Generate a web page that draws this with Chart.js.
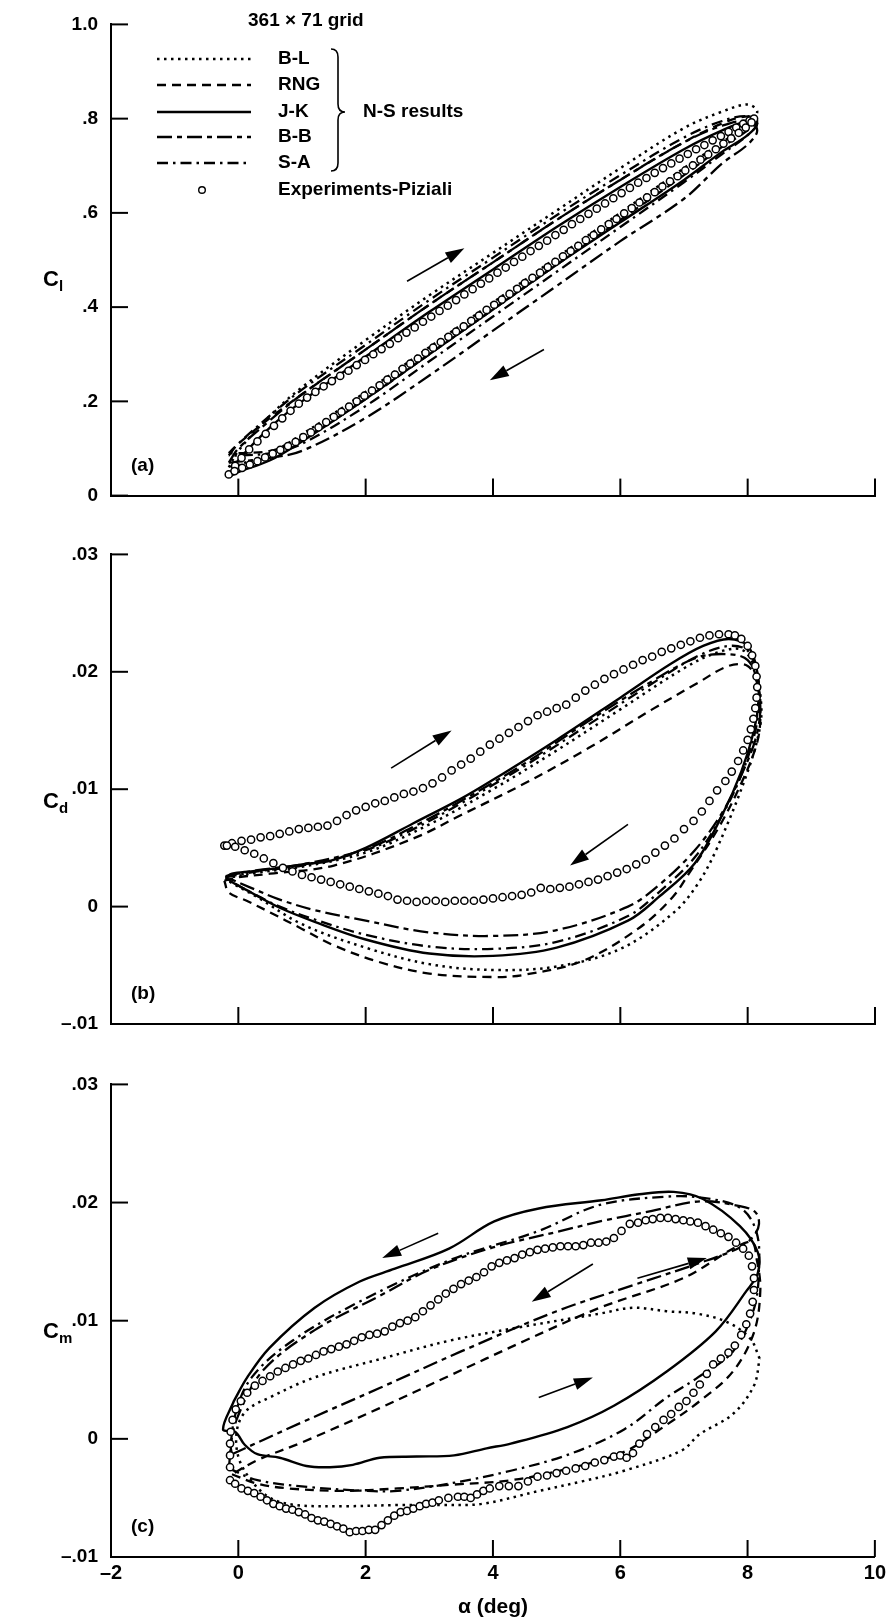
<!DOCTYPE html>
<html>
<head>
<meta charset="utf-8">
<script src="https://cdn.jsdelivr.net/npm/chart.js@4.4.0/dist/chart.umd.min.js"></script>
<style>
  body { margin: 0; background: #fff; width: 890px; height: 1622px; position: relative; overflow: hidden; }
  canvas { position: absolute; left: 0; }
</style>
</head>
<body>
<canvas id="cA" width="890" height="520" style="top:0px;width:890px;height:520px"></canvas>
<canvas id="cB" width="890" height="520" style="top:530px;width:890px;height:520px"></canvas>
<canvas id="cC" width="890" height="562" style="top:1060px;width:890px;height:562px"></canvas>
<script>
// ---------- panel (a): lift coefficient ----------
const alphaA = [-0.15, 0, 0.5, 1, 2, 3, 4, 5, 6, 7, 7.6, 8.0, 8.15, 8.0, 7.6, 7, 6, 5, 4, 3, 2, 1, 0.5, 0, -0.15];
const clBL  = [.06, .095, .17, .23, .33, .425, .515, .605, .695, .78, .815, .83, .815, .785, .75, .695, .60, .505, .41, .315, .22, .13, .09, .065, .06];
const clRNG = [.09, .11, .165, .215, .31, .405, .495, .585, .67, .75, .79, .805, .795, .775, .74, .68, .585, .49, .395, .30, .205, .12, .095, .09, .09];
const clJK  = [.04, .075, .145, .2, .295, .39, .48, .57, .655, .735, .775, .795, .79, .765, .73, .67, .58, .49, .395, .30, .205, .115, .075, .05, .04];
const clBB  = [.07, .10, .16, .215, .31, .405, .495, .585, .67, .75, .785, .795, .775, .745, .705, .63, .54, .445, .35, .255, .165, .095, .08, .072, .07];
const clSA  = [.085, .11, .17, .225, .32, .415, .505, .595, .68, .76, .795, .805, .79, .765, .725, .665, .57, .475, .38, .285, .19, .11, .09, .085, .085];

const expA_alpha = [-0.15,-0.05,0.05,0.17,0.3,0.43,0.56,0.69,0.82,0.95,
  1.08,1.21,1.34,1.47,1.6,1.73,1.86,1.99,2.12,2.25,
  2.38,2.51,2.64,2.77,2.9,3.03,3.16,3.29,3.42,3.55,
  3.68,3.81,3.94,4.07,4.2,4.33,4.46,4.59,4.72,4.85,
  4.98,5.11,5.24,5.37,5.5,5.63,5.76,5.89,6.02,6.15,
  6.28,6.41,6.54,6.67,6.8,6.93,7.06,7.19,7.32,7.45,
  7.58,7.7,7.82,7.93,8.03,8.1,
  8.06,7.97,7.86,7.74,7.62,7.5,7.38,7.26,7.14,7.02,
  6.9,6.78,6.66,6.54,6.42,6.3,6.18,6.06,5.94,5.82,
  5.7,5.58,5.46,5.34,5.22,5.1,4.98,4.86,4.74,4.62,
  4.5,4.38,4.26,4.14,4.02,3.9,3.78,3.66,3.54,3.42,
  3.3,3.18,3.06,2.94,2.82,2.7,2.58,2.46,2.34,2.22,
  2.1,1.98,1.86,1.74,1.62,1.5,1.38,1.26,1.14,1.02,
  0.9,0.78,0.66,0.54,0.42,0.3,0.18,0.06,-0.06];
const expA_cl = [.045,.063,.080,.098,.115,.131,.148,.164,.180,.195,
  .208,.220,.232,.243,.254,.265,.277,.288,.300,.311,
  .322,.334,.346,.357,.369,.380,.392,.403,.415,.427,
  .438,.450,.461,.473,.484,.496,.507,.519,.530,.541,
  .553,.564,.576,.587,.598,.609,.620,.631,.642,.653,
  .664,.674,.685,.695,.705,.715,.725,.735,.744,.754,
  .763,.772,.781,.789,.796,.800,
  .792,.781,.770,.758,.747,.735,.724,.713,.701,.690,
  .678,.667,.656,.644,.633,.622,.610,.599,.587,.576,
  .565,.553,.542,.530,.519,.508,.496,.485,.473,.462,
  .451,.439,.428,.416,.405,.394,.382,.371,.359,.348,
  .337,.326,.314,.303,.291,.280,.269,.257,.246,.234,
  .223,.212,.200,.189,.178,.167,.156,.145,.134,.124,
  .114,.105,.097,.089,.081,.073,.066,.059,.052];

// ---------- panel (b): drag coefficient ----------
const cdJK_alpha = [-0.2,-0.1,0.2,0.65,1.0,1.44,2.0,2.75,3.5,4.0,5.0,6.0,6.8,7.3,7.7,8.0,8.15,8.17,8.1,7.9,7.6,7.17,6.6,6.12,5.0,4.0,3.0,2.0,1.2,0.65,0.2,-0.1,-0.2];
const cdJK = [0.0025,0.0028,0.003,0.0033,0.0036,0.0039,0.005,0.0071,0.0092,0.0108,0.0142,0.0178,0.0207,0.0222,0.0228,0.0222,0.020,0.0175,0.015,0.0115,0.0078,0.0037,0.0008,-0.0012,-0.0035,-0.0042,-0.004,-0.0028,-0.0013,-0.0001,0.0012,0.0021,0.0025];
const cdRNG_alpha = [-0.22,0,0.5,1.5,2.75,3.5,4.5,5.5,6.5,7.2,7.7,8.0,8.15,8.2,8.15,7.9,7.52,7.1,6.82,6.3,5.42,4.5,4.0,3.0,2.2,1.5,1.0,0.5,0.13,-0.15,-0.22];
const cdRNG = [0.0022,0.0025,0.0028,0.0035,0.0058,0.0078,0.0105,0.0135,0.0168,0.019,0.0205,0.0205,0.019,0.0165,0.014,0.0105,0.0065,0.003,0.0008,-0.0018,-0.0046,-0.0058,-0.006,-0.0057,-0.0047,-0.0033,-0.0019,-0.0005,0.0005,0.0012,0.0022];
const cdBL_alpha = [-0.2,0.3,1.0,2.0,3.0,4.0,5.0,6.0,7.0,7.5,7.9,8.1,8.2,8.2,8.0,7.52,7.2,6.82,6.0,5.0,4.0,3.0,2.0,1.0,0.3,-0.1,-0.2];
const cdBL = [0.0024,0.0029,0.0034,0.0046,0.007,0.0100,0.0133,0.0168,0.0203,0.0216,0.0219,0.0205,0.018,0.0155,0.0115,0.005,0.0018,-0.0006,-0.0036,-0.0051,-0.0054,-0.0049,-0.0035,-0.0015,0.0008,0.002,0.0024];
const cdSA_alpha = [-0.2,0.3,1.0,2.0,2.75,3.5,4.5,5.5,6.5,7.2,7.7,8.0,8.15,8.18,8.1,7.9,7.6,7.17,6.6,6.12,5.0,4.0,3.0,2.0,1.2,0.65,0.2,-0.1,-0.2];
const cdSA = [0.0025,0.003,0.0035,0.0048,0.0066,0.0088,0.012,0.0155,0.019,0.0213,0.0222,0.0218,0.0198,0.0172,0.0145,0.0112,0.0078,0.0042,0.0012,-0.0008,-0.003,-0.0036,-0.0034,-0.0024,-0.0011,0.0,0.0012,0.0021,0.0025];
const cdBB_alpha = [-0.2,0.3,1.0,2.0,2.75,3.5,4.5,5.5,6.5,7.2,7.7,8.0,8.15,8.2,8.12,7.9,7.6,7.17,6.6,6.12,5.0,4.0,3.0,2.0,1.2,0.65,0.2,-0.1,-0.2];
const cdBB = [0.0026,0.0031,0.0036,0.0049,0.0068,0.009,0.0122,0.0158,0.0192,0.0212,0.0215,0.021,0.0192,0.0168,0.0142,0.0112,0.008,0.0048,0.0018,0.0,-0.002,-0.0025,-0.0022,-0.0012,-0.0003,0.0006,0.0016,0.0023,0.0026];

const expB_alpha = [-0.22,-0.1,0.05,0.2,0.35,0.5,0.65,0.8,0.95,1.1,
  1.25,1.4,1.55,1.7,1.85,2.0,2.15,2.3,2.45,2.6,
  2.75,2.9,3.05,3.2,3.35,3.5,3.65,3.8,3.95,4.1,
  4.25,4.4,4.55,4.7,4.85,5.0,5.15,5.3,5.45,5.6,
  5.75,5.9,6.05,6.2,6.35,6.5,6.65,6.8,6.95,7.1,
  7.25,7.4,7.55,7.7,7.8,7.9,8.0,8.07,8.12,8.14,
  8.15,8.14,8.12,8.09,8.05,8.0,7.93,7.85,7.75,7.65,
  7.52,7.4,7.28,7.15,7.0,6.85,6.7,6.55,6.4,6.25,
  6.1,5.95,5.8,5.65,5.5,5.35,5.2,5.05,4.9,4.75,
  4.6,4.45,4.3,4.15,4.0,3.85,3.7,3.55,3.4,3.25,
  3.1,2.95,2.8,2.65,2.5,2.35,2.2,2.05,1.9,1.75,
  1.6,1.45,1.3,1.15,1.0,0.85,0.7,0.55,0.4,0.25,
  0.1,-0.05,-0.18];
const expB_cd = [0.0052,0.0054,0.0056,0.0057,0.0059,0.0060,0.0062,0.0064,0.0066,0.0067,
  0.0068,0.0069,0.0073,0.0078,0.0082,0.0085,0.0088,0.0090,0.0093,0.0096,
  0.0098,0.0101,0.0105,0.0110,0.0116,0.0121,0.0126,0.0132,0.0138,0.0143,
  0.0148,0.0153,0.0158,0.0163,0.0166,0.0169,0.0172,0.0178,0.0184,0.0189,
  0.0194,0.0198,0.0202,0.0206,0.0210,0.0213,0.0217,0.0220,0.0223,0.0226,
  0.0229,0.0231,0.0232,0.0232,0.0231,0.0228,0.0222,0.0214,0.0205,0.0196,
  0.0187,0.0178,0.0169,0.0160,0.0151,0.0142,0.0133,0.0124,0.0115,0.0107,
  0.0099,0.0090,0.0081,0.0073,0.0066,0.0058,0.0052,0.0046,0.0040,0.0036,
  0.0032,0.0029,0.0026,0.0023,0.0021,0.0019,0.0017,0.0016,0.0015,0.0016,
  0.0012,0.0010,0.0009,0.0008,0.0007,0.0006,0.0005,0.0005,0.0005,0.0004,
  0.0005,0.0005,0.0004,0.0005,0.0006,0.0009,0.0011,0.0013,0.0015,0.0017,
  0.0019,0.0021,0.0023,0.0025,0.0027,0.0030,0.0033,0.0037,0.0041,0.0045,
  0.0048,0.0051,0.0052];

// ---------- panel (c): moment coefficient ----------
const cmJK_alpha = [-0.07,-0.24,-0.05,0.1,0.3,0.65,1.07,1.44,1.8,2.22,2.8,3.39,3.9,4.28,5.17,5.9,6.73,7.5,7.98,8.16,8.16,7.88,7.3,6.84,6.3,5.71,4.72,4.02,3.31,2.46,1.9,1.2,0.49,0.14,-0.07];
const cmJK = [0.0032,0.0008,0.0006,-0.0005,-0.0013,-0.0016,-0.0023,-0.0024,-0.0022,-0.0016,-0.0015,-0.0014,-0.0008,-0.0004,0.001,0.0028,0.0057,0.0091,0.0125,0.014,0.0158,0.018,0.0203,0.0209,0.0207,0.0202,0.0195,0.0184,0.0161,0.0144,0.0133,0.0111,0.0077,0.0052,0.0032];
const cmSA_alpha = [-0.15,0.3,1.16,2.0,2.5,3.3,4.28,5.2,6.06,6.73,7.22,7.77,8.1,8.18,8.14,7.9,7.3,6.73,5.68,4.72,3.31,1.9,0.85,0.21,-0.05,-0.15];
const cmSA = [-0.0025,-0.0035,-0.0041,-0.0044,-0.0044,-0.0038,-0.0027,-0.0013,0.0008,0.0035,0.0052,0.0074,0.011,0.0145,0.0175,0.0195,0.0204,0.0205,0.0198,0.0176,0.0151,0.0116,0.0083,0.0052,0.002,-0.0025];
const cmRNG_alpha = [-0.1,0.3,0.8,1.6,2.5,3.3,4.28,5.2,6.06,6.73,7.25,7.77,8.1,8.2,8.15,8.04,6.99,5.68,4.5,3.3,2.22,1.0,0.3,-0.1];
const cmRNG = [-0.003,-0.0038,-0.0042,-0.0044,-0.0042,-0.0039,-0.0035,-0.0025,-0.0011,0.0012,0.0032,0.0057,0.009,0.0125,0.015,0.0167,0.0136,0.0111,0.0083,0.0053,0.0026,-0.0003,-0.0018,-0.003];
const cmBB_alpha = [-0.1,1.0,2.22,3.5,5.0,6.2,7.2,7.88,8.1,8.18,8.12,7.88,7.25,6.5,5.68,5.07,4.0,3.0,2.22,1.2,0.39,0.0,-0.12,-0.1];
const cmBB = [-0.0013,0.0014,0.0043,0.0074,0.0108,0.0130,0.0148,0.0162,0.0172,0.0182,0.0192,0.0197,0.0201,0.0193,0.0184,0.0176,0.0162,0.0143,0.0121,0.0092,0.0058,0.002,-0.0005,-0.0013];
const cmBL_alpha = [8.19,8.04,7.67,7.2,6.73,6.2,5.68,4.37,3.31,2.26,1.2,0.49,0.13,-0.02,0.0,0.2,0.5,0.9,1.7,2.5,3.2,3.83,4.73,5.4,6.06,6.96,7.25,7.77,8.1,8.19];
const cmBL = [0.0068,0.0085,0.0099,0.0106,0.0108,0.0111,0.0106,0.0094,0.0083,0.0068,0.0052,0.0035,0.0024,0.0008,-0.0015,-0.0035,-0.005,-0.0056,-0.0057,-0.0056,-0.0056,-0.0055,-0.0044,-0.0036,-0.0027,-0.001,0.0004,0.0021,0.0045,0.0068];

const expC_alpha = [-0.13,-0.05,0.05,0.15,0.25,0.35,0.45,0.55,0.65,0.75,
  0.85,0.95,1.05,1.15,1.25,1.35,1.45,1.55,1.65,1.75,
  1.85,1.95,2.05,2.15,2.25,2.35,2.45,2.55,2.65,2.75,
  2.85,2.95,3.05,3.15,3.3,3.45,3.55,3.65,3.75,3.85,
  3.95,4.1,4.25,4.4,4.55,4.7,4.85,5.0,5.15,5.3,
  5.45,5.6,5.75,5.9,6.0,6.1,6.2,6.3,6.42,6.55,
  6.68,6.8,6.92,7.04,7.15,7.25,7.36,7.46,7.58,7.7,
  7.8,7.9,7.98,8.04,8.08,8.1,8.1,8.07,8.02,7.93,
  7.82,7.7,7.58,7.46,7.34,7.22,7.1,6.99,6.87,6.75,
  6.63,6.51,6.4,6.28,6.15,6.02,5.9,5.78,5.66,5.54,
  5.42,5.3,5.18,5.06,4.94,4.82,4.7,4.58,4.46,4.34,
  4.22,4.1,3.98,3.86,3.74,3.62,3.5,3.38,3.26,3.14,
  3.02,2.9,2.78,2.66,2.54,2.42,2.3,2.18,2.06,1.94,
  1.82,1.7,1.58,1.46,1.34,1.22,1.1,0.98,0.86,0.74,
  0.62,0.5,0.38,0.26,0.14,0.04,-0.04,-0.09,-0.12,-0.13,
  -0.13,-0.13];
const expC_cm = [-0.0035,-0.0038,-0.0042,-0.0044,-0.0046,-0.0049,-0.0052,-0.0055,-0.0057,-0.0059,
  -0.0060,-0.0062,-0.0064,-0.0067,-0.0069,-0.0070,-0.0072,-0.0074,-0.0076,-0.0079,
  -0.0078,-0.0078,-0.0077,-0.0077,-0.0073,-0.0069,-0.0065,-0.0062,-0.0061,-0.0059,
  -0.0057,-0.0055,-0.0054,-0.0052,-0.0050,-0.0049,-0.0049,-0.0050,-0.0047,-0.0044,
  -0.0042,-0.0040,-0.0040,-0.0040,-0.0036,-0.0032,-0.0031,-0.0029,-0.0027,-0.0025,
  -0.0023,-0.0020,-0.0018,-0.0015,-0.0014,-0.0016,-0.0012,-0.0004,0.0004,0.0010,
  0.0016,0.0021,0.0027,0.0032,0.0039,0.0046,0.0055,0.0063,0.0068,0.0073,
  0.0079,0.0088,0.0097,0.0106,0.0116,0.0126,0.0136,0.0146,0.0155,0.0161,
  0.0166,0.0171,0.0174,0.0177,0.0180,0.0183,0.0184,0.0185,0.0186,0.0187,
  0.0187,0.0186,0.0185,0.0183,0.0182,0.0176,0.0170,0.0167,0.0166,0.0166,
  0.0164,0.0163,0.0163,0.0163,0.0162,0.0161,0.0160,0.0158,0.0156,0.0153,
  0.0151,0.0149,0.0146,0.0141,0.0137,0.0134,0.0131,0.0127,0.0123,0.0118,
  0.0113,0.0108,0.0103,0.0100,0.0098,0.0095,0.0091,0.0089,0.0088,0.0086,
  0.0083,0.0080,0.0078,0.0076,0.0074,0.0071,0.0068,0.0066,0.0063,0.0060,
  0.0057,0.0053,0.0049,0.0045,0.0039,0.0032,0.0025,0.0016,0.0006,-0.0004,
  -0.0014,-0.0024];

// arrows: [alpha tail, value tail, alpha head, value head]
const arrowsA = [[2.65, 0.455, 3.55, 0.525], [4.8, 0.31, 3.95, 0.245]];
const arrowsB = [[2.4, 0.0118, 3.35, 0.0150], [6.12, 0.0070, 5.21, 0.0035]];
const arrowsC = [[3.14, 0.0174, 2.26, 0.0153], [5.57, 0.0148, 4.61, 0.0116], [6.27, 0.0136, 7.36, 0.0153], [4.72, 0.0035, 5.57, 0.0052]];

const legendLabels = ['B-L', 'RNG', 'J-K', 'B-B', 'S-A', 'Experiments-Piziali'];

// ---------- drawing ----------
const FAM = "'Liberation Sans', Arial, Helvetica, sans-serif";
Chart.defaults.font.family = FAM;
Chart.defaults.font.weight = 'bold';
Chart.defaults.color = '#000';
Chart.defaults.animation = false;

const lineStyle = {
  BL:  {borderDash: [2.5, 4.5], borderWidth: 2.5},
  RNG: {borderDash: [9, 6], borderWidth: 2.3},
  JK:  {borderDash: [], borderWidth: 2.4},
  BB:  {borderDash: [15, 5, 5, 5], borderWidth: 2.3},
  SA:  {borderDash: [11, 5, 2.5, 5], borderWidth: 2.3}
};

function pts(xs, ys) { return xs.map((v, i) => ({x: v, y: ys[i]})); }

function lineSet(label, key, xs, ys) {
  return Object.assign({label: label, data: pts(xs, ys), showLine: true, fill: false,
    borderColor: '#000', pointRadius: 0, tension: 0.35, order: 2}, lineStyle[key]);
}
function expSet(xs, ys) {
  return {label: 'Experiments-Piziali', data: pts(xs, ys), showLine: false,
    pointRadius: 3.6, pointBorderWidth: 1.5, pointBorderColor: '#000',
    pointBackgroundColor: '#fff', order: 1};
}

function arrow(ctx, x0, y0, x1, y1) {
  const ang = Math.atan2(y1 - y0, x1 - x0), L = 19, W = 6;
  const bx = x1 - L * Math.cos(ang), by = y1 - L * Math.sin(ang);
  ctx.lineWidth = 1.6;
  ctx.beginPath(); ctx.moveTo(x0, y0); ctx.lineTo(bx, by); ctx.stroke();
  ctx.beginPath();
  ctx.moveTo(x1, y1);
  ctx.lineTo(bx + W * Math.sin(ang), by - W * Math.cos(ang));
  ctx.lineTo(bx - W * Math.sin(ang), by + W * Math.cos(ang));
  ctx.closePath(); ctx.fill();
}

const deco = {
  id: 'deco',
  afterDatasetsDraw(chart, args, o) {
    const {ctx, chartArea: ca, scales: {x, y}} = chart;
    ctx.save();
    ctx.strokeStyle = '#000'; ctx.fillStyle = '#000'; ctx.setLineDash([]);
    ctx.lineWidth = 2;
    y.ticks.forEach(t => {
      const py = y.getPixelForValue(t.value);
      ctx.beginPath(); ctx.moveTo(ca.left, py); ctx.lineTo(ca.left + 17, py); ctx.stroke();
    });
    x.ticks.forEach(t => {
      if (t.value <= x.min) return;
      const px = x.getPixelForValue(t.value);
      ctx.beginPath(); ctx.moveTo(px, ca.bottom); ctx.lineTo(px, ca.bottom - 17); ctx.stroke();
    });
    o.arrows.forEach(a => arrow(ctx, x.getPixelForValue(a[0]), y.getPixelForValue(a[1]),
                                     x.getPixelForValue(a[2]), y.getPixelForValue(a[3])));
    ctx.textBaseline = 'middle'; ctx.textAlign = 'left';
    ctx.font = 'bold 19px ' + FAM;
    ctx.fillText(o.tag, ca.left + 20, ca.bottom - 30);
    // axis title with subscript
    ctx.font = 'bold 22px ' + FAM;
    ctx.fillText('C', 43, o.titleY);
    ctx.font = 'bold 15px ' + FAM;
    ctx.fillText(o.sub, 59, o.titleY + 7);
    if (o.xTitle) {
      ctx.textAlign = 'center';
      ctx.font = 'bold 21px ' + FAM;
      ctx.fillText(o.xTitle, x.getPixelForValue(4), o.xTitleY);
    }
    if (o.legend) drawLegend(ctx);
    ctx.restore();
  }
};

function drawLegend(ctx) {
  const rowsY = [59, 85, 112, 137, 163, 190];
  const keys = ['BL', 'RNG', 'JK', 'BB', 'SA'];
  ctx.font = 'bold 19px ' + FAM;
  ctx.textAlign = 'left'; ctx.textBaseline = 'middle';
  ctx.fillText('361 \u00d7 71 grid', 248, 21);
  keys.forEach((k, i) => {
    ctx.lineWidth = lineStyle[k].borderWidth;
    ctx.setLineDash(lineStyle[k].borderDash);
    ctx.beginPath(); ctx.moveTo(157, rowsY[i]); ctx.lineTo(251, rowsY[i]); ctx.stroke();
  });
  ctx.setLineDash([]);
  legendLabels.forEach((t, i) => ctx.fillText(t, 278, rowsY[i]));
  ctx.lineWidth = 1.4; ctx.fillStyle = '#fff';
  ctx.beginPath(); ctx.arc(202, rowsY[5], 3.3, 0, Math.PI * 2); ctx.fill(); ctx.stroke();
  ctx.fillStyle = '#000';
  // brace
  ctx.lineWidth = 1.6;
  ctx.beginPath();
  ctx.moveTo(331, 49); ctx.quadraticCurveTo(338, 49, 338, 57);
  ctx.lineTo(338, 104); ctx.quadraticCurveTo(338, 112, 345, 112);
  ctx.quadraticCurveTo(338, 112, 338, 120);
  ctx.lineTo(338, 163); ctx.quadraticCurveTo(338, 171, 331, 171);
  ctx.stroke();
  ctx.fillText('N-S results', 363, 112);
}

function xScale(showLabels, h) {
  return {type: 'linear', min: -2, max: 10, afterFit: s => { s.height = h; },
    ticks: {display: showLabels, stepSize: 2, padding: 4, autoSkip: false, color: '#000',
      font: {size: 20, weight: 'bold'},
      callback: v => v < 0 ? '\u2013' + Math.abs(v) : String(v)},
    grid: {display: false, drawTicks: false},
    border: {display: true, color: '#000', width: 2}};
}
function yScale(min, max, step, fmt) {
  return {type: 'linear', min: min, max: max, afterFit: s => { s.width = 111; },
    ticks: {stepSize: step, padding: 13, autoSkip: false, color: '#000',
      font: {size: 19, weight: 'bold'}, callback: fmt},
    grid: {display: false, drawTicks: false},
    border: {display: true, color: '#000', width: 2}};
}
const fmtA = v => { const r = Math.round(v * 10); return r === 0 ? '0' : (r === 10 ? '1.0' : '.' + r); };
const fmtBC = v => { const r = Math.round(v * 100); return r === 0 ? '0' : (r < 0 ? '\u2013.0' + (-r) : '.0' + r); };

function makeChart(id, datasets, y, x, padTop, deco_opts) {
  return new Chart(document.getElementById(id), {
    type: 'scatter',
    data: {datasets: datasets},
    options: {
      responsive: false, events: [],
      layout: {padding: {top: padTop, right: 15, bottom: 0, left: 0}},
      scales: {x: x, y: y},
      plugins: {legend: {display: false}, tooltip: {enabled: false}, deco: deco_opts}
    },
    plugins: [deco]
  });
}

makeChart('cA', [
  expSet(expA_alpha, expA_cl),
  lineSet('B-L', 'BL', alphaA, clBL),
  lineSet('RNG', 'RNG', alphaA, clRNG),
  lineSet('J-K', 'JK', alphaA, clJK),
  lineSet('B-B', 'BB', alphaA, clBB),
  lineSet('S-A', 'SA', alphaA, clSA)
], yScale(0, 1, 0.2, fmtA), xScale(false, 24), 21,
  {arrows: arrowsA, tag: '(a)', sub: 'l', titleY: 280, legend: true});

makeChart('cB', [
  expSet(expB_alpha, expB_cd),
  lineSet('B-L', 'BL', cdBL_alpha, cdBL),
  lineSet('RNG', 'RNG', cdRNG_alpha, cdRNG),
  lineSet('J-K', 'JK', cdJK_alpha, cdJK),
  lineSet('B-B', 'BB', cdBB_alpha, cdBB),
  lineSet('S-A', 'SA', cdSA_alpha, cdSA)
], yScale(-0.01, 0.03, 0.01, fmtBC), xScale(false, 26), 23,
  {arrows: arrowsB, tag: '(b)', sub: 'd', titleY: 272});

makeChart('cC', [
  expSet(expC_alpha, expC_cm),
  lineSet('B-L', 'BL', cmBL_alpha, cmBL),
  lineSet('RNG', 'RNG', cmRNG_alpha, cmRNG),
  lineSet('J-K', 'JK', cmJK_alpha, cmJK),
  lineSet('B-B', 'BB', cmBB_alpha, cmBB),
  lineSet('S-A', 'SA', cmSA_alpha, cmSA)
], yScale(-0.01, 0.03, 0.01, fmtBC), xScale(true, 65), 22,
  {arrows: arrowsC, tag: '(c)', sub: 'm', titleY: 272, xTitle: '\u03b1 (deg)', xTitleY: 547});
</script>
</body>
</html>
